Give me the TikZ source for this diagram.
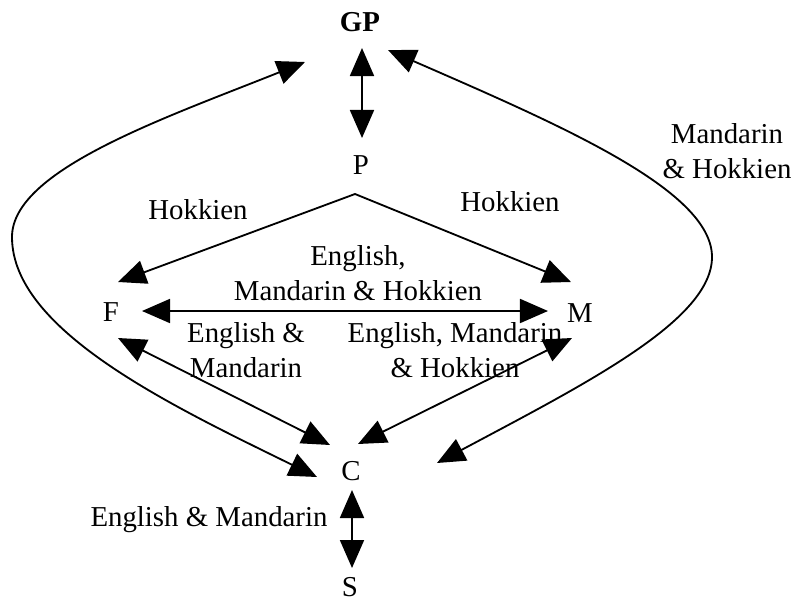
\documentclass[tikz,border=0pt]{standalone}
\usepackage{fontspec}
\setmainfont{Liberation Serif}
\usetikzlibrary{arrows.meta, calc}

\begin{document}
\begin{tikzpicture}[x=0.025cm, y=-0.025cm, line width=1.3pt]
    \tikzset{
        member/.style={inner sep=0pt, font=\fontsize{20.5}{25}\selectfont},
        langlabel/.style={inner sep=0pt, align=center, font=\fontsize{20.5}{25}\selectfont},
        talk/.style={{Triangle[length=0.7cm, width=0.6cm]}-{Triangle[length=0.7cm, width=0.6cm]}}
    }
    \useasboundingbox (0,0) rectangle (797,606);

    % family members
    \node[member, font=\fontsize{20.5}{25}\selectfont\bfseries] (GP) at (360,22) {GP};
    \node[member] (P) at (361,165) {P};
    \node[member] (F) at (111,312) {F};
    \node[member] (M) at (580,313) {M};
    \node[member] (C) at (351,471) {C};
    \node[member] (S) at (350,587) {S};

    % languages spoken
    \node[langlabel] (hokF) at (198,210) {Hokkien};
    \node[langlabel] (hokM) at (510,202) {Hokkien};
    \node[langlabel] (emhFM) at (358,273) {English,\\Mandarin \& Hokkien};
    \node[langlabel] (emFC) at (246,350) {English \&\\Mandarin};
    \node[langlabel] (emhMC) at (455,350) {English, Mandarin\\\& Hokkien};
    \node[langlabel] (mhGP) at (727,151) {Mandarin\\\& Hokkien};
    \node[langlabel] (emCS) at (209,520) {English \& Mandarin};

    \draw[talk] ($(GP)+(2,26)$) -- ($(P)+(1,-27)$);
    \draw[talk] ($(F)+(7,-30)$) -- ($(P)+(-6,29)$) -- ($(M)+(-9,-31)$);
    \draw[talk] ($(F)+(31,-1)$) -- ($(M)+(-32,-2)$);
    \draw[talk] ($(F)+(7,26)$) -- ($(C)+(-21,-26)$);
    \draw[talk] ($(M)+(-8,25)$) -- ($(C)+(7,-27)$);
    \draw[talk] ($(C)+(1,19)$) -- ($(S)+(2,-19)$);

    % grandparents to child
    \coordinate (lbend) at (12,237);
    \coordinate (rbend) at (712,257);
    \draw[talk] ($(C)+(-34,6)$) .. controls (170,405) and (12,330) .. (lbend)
        .. controls (12,170) and (165,118) .. ($(GP)+(-55,40)$);
    \draw[talk] ($(GP)+(28,28)$) .. controls (560,125) and (712,190) .. (rbend)
        .. controls (712,320) and (587,383) .. ($(C)+(86,-8)$);
\end{tikzpicture}
\end{document}
